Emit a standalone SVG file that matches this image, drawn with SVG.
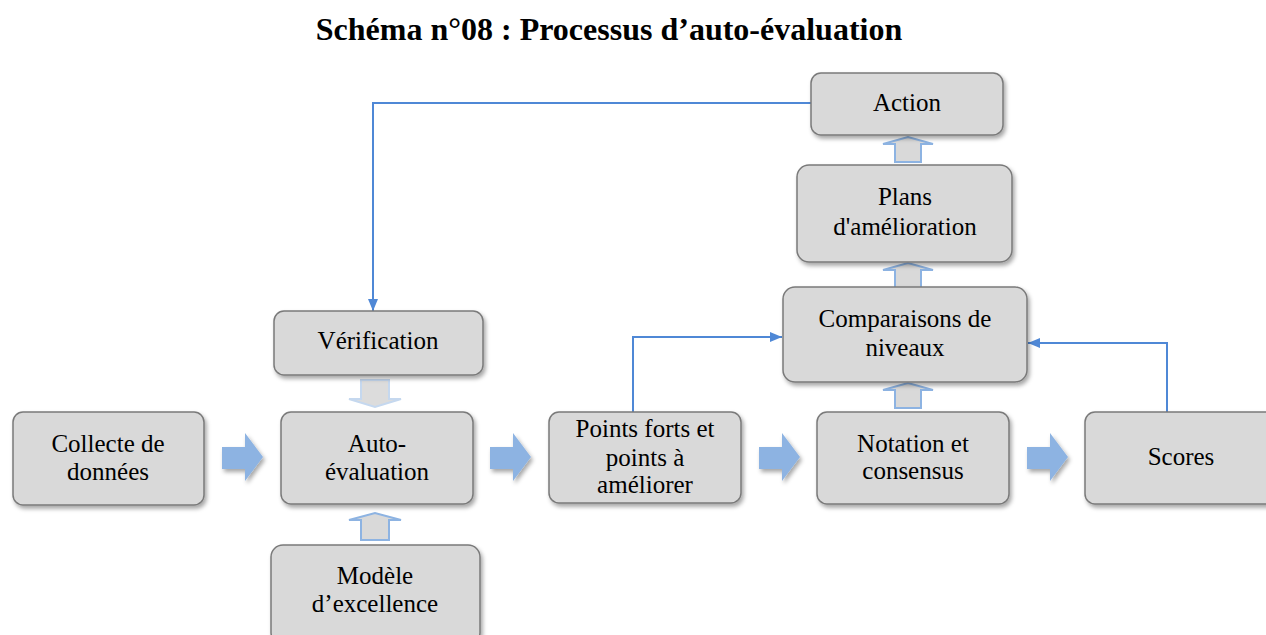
<svg xmlns="http://www.w3.org/2000/svg" width="1266" height="635" viewBox="0 0 1266 635">
  <defs>
    <filter id="shadow" x="-10%" y="-10%" width="130%" height="140%">
      <feDropShadow dx="2" dy="3" stdDeviation="2" flood-color="#000" flood-opacity="0.35"/>
    </filter>
    <marker id="tip" viewBox="0 0 12 10" refX="12" refY="5" markerWidth="12" markerHeight="10" markerUnits="userSpaceOnUse" orient="auto">
      <path d="M0,0 L12,5 L0,10 Z" fill="#4f88d6"/>
    </marker>
  </defs>
  <style>
    .box { fill: #d9d9d9; stroke: #7a7a7a; stroke-width: 1.5; filter: url(#shadow); }
    .blk { fill: #8db3e2; filter: url(#shadow); }
    .hol { fill: #d9d9d9; stroke: #8db3e2; stroke-width: 2; }
    .conn { fill: none; stroke: #4f88d6; stroke-width: 2; marker-end: url(#tip); }
  </style>

  <rect width="1266" height="635" fill="#fff"/>

  <text x="609" y="40" font-family="Liberation Serif, serif" font-size="32" font-weight="bold" text-anchor="middle">Schéma n°08 : Processus d’auto-évaluation</text>

  <!-- feedback and comparison connectors -->
  <g id="connectors">
    <path class="conn" d="M811,103 H373 V311"/>
    <path class="conn" d="M633,412 V337 H782"/>
    <path class="conn" d="M1167,412 V343 H1028"/>
  </g>

  <!-- block arrows along the main flow -->
  <g id="flow-arrows">
    <path class="blk" d="M222,447 H245 V433 L263,457 L245,481 V469 H222 Z"/>
    <path class="blk" d="M490,447 H513 V433 L531,457 L513,481 V469 H490 Z"/>
    <path class="blk" d="M759,447 H782 V433 L800,457 L782,481 V469 H759 Z"/>
    <path class="blk" d="M1027,447 H1050 V433 L1068,457 L1050,481 V469 H1027 Z"/>
    <!-- hollow vertical arrows -->
    <path class="hol" style="fill:#dcdcdc;stroke:#c5d8ef" d="M361,380 H389 V399 H401 L375,407 L349,399 H361 Z"/>
    <path class="hol" d="M361,540 H389 V520 H401 L375,513 L349,520 H361 Z"/>
    <path class="hol" d="M895,408 H921 V390 H933 L908,383 L883,390 H895 Z"/>
    <path class="hol" d="M895,288 H921 V270 H933 L908,263 L883,270 H895 Z"/>
    <path class="hol" d="M895,162 H921 V144 H933 L908,137 L883,144 H895 Z"/>
  </g>

  <g font-family="Liberation Serif, serif" font-size="25" fill="#000" text-anchor="middle">
    <g id="collecte">
      <rect class="box" x="13" y="412" width="191" height="93" rx="10"/>
      <text x="108" y="452">Collecte de</text>
      <text x="108" y="480">données</text>
    </g>

    <g id="verification">
      <rect class="box" x="274" y="311" width="209" height="64" rx="10"/>
      <text x="378" y="349">Vérification</text>
    </g>

    <g id="auto-evaluation">
      <rect class="box" x="281" y="412" width="192" height="92" rx="10"/>
      <text x="377" y="452">Auto-</text>
      <text x="377" y="480">évaluation</text>
    </g>

    <g id="modele">
      <rect class="box" x="271" y="545" width="209" height="100" rx="12"/>
      <text x="375" y="584">Modèle</text>
      <text x="375" y="612">d’excellence</text>
    </g>

    <g id="points">
      <rect class="box" x="549" y="412" width="192" height="91" rx="10"/>
      <text x="645" y="437">Points forts et</text>
      <text x="645" y="466">points à</text>
      <text x="645" y="493">améliorer</text>
    </g>

    <g id="notation">
      <rect class="box" x="817" y="412" width="192" height="92" rx="10"/>
      <text x="913" y="452">Notation et</text>
      <text x="913" y="479">consensus</text>
    </g>

    <g id="scores">
      <rect class="box" x="1085" y="412" width="200" height="92" rx="10"/>
      <text x="1181" y="465">Scores</text>
    </g>

    <g id="comparaisons">
      <rect class="box" x="783" y="287" width="244" height="95" rx="12"/>
      <text x="905" y="327">Comparaisons de</text>
      <text x="905" y="356">niveaux</text>
    </g>

    <g id="plans">
      <rect class="box" x="797" y="165" width="215" height="97" rx="12"/>
      <text x="905" y="205">Plans</text>
      <text x="905" y="235">d'amélioration</text>
    </g>

    <g id="action">
      <rect class="box" x="811" y="73" width="192" height="62" rx="10"/>
      <text x="907" y="111">Action</text>
    </g>
  </g>
</svg>
